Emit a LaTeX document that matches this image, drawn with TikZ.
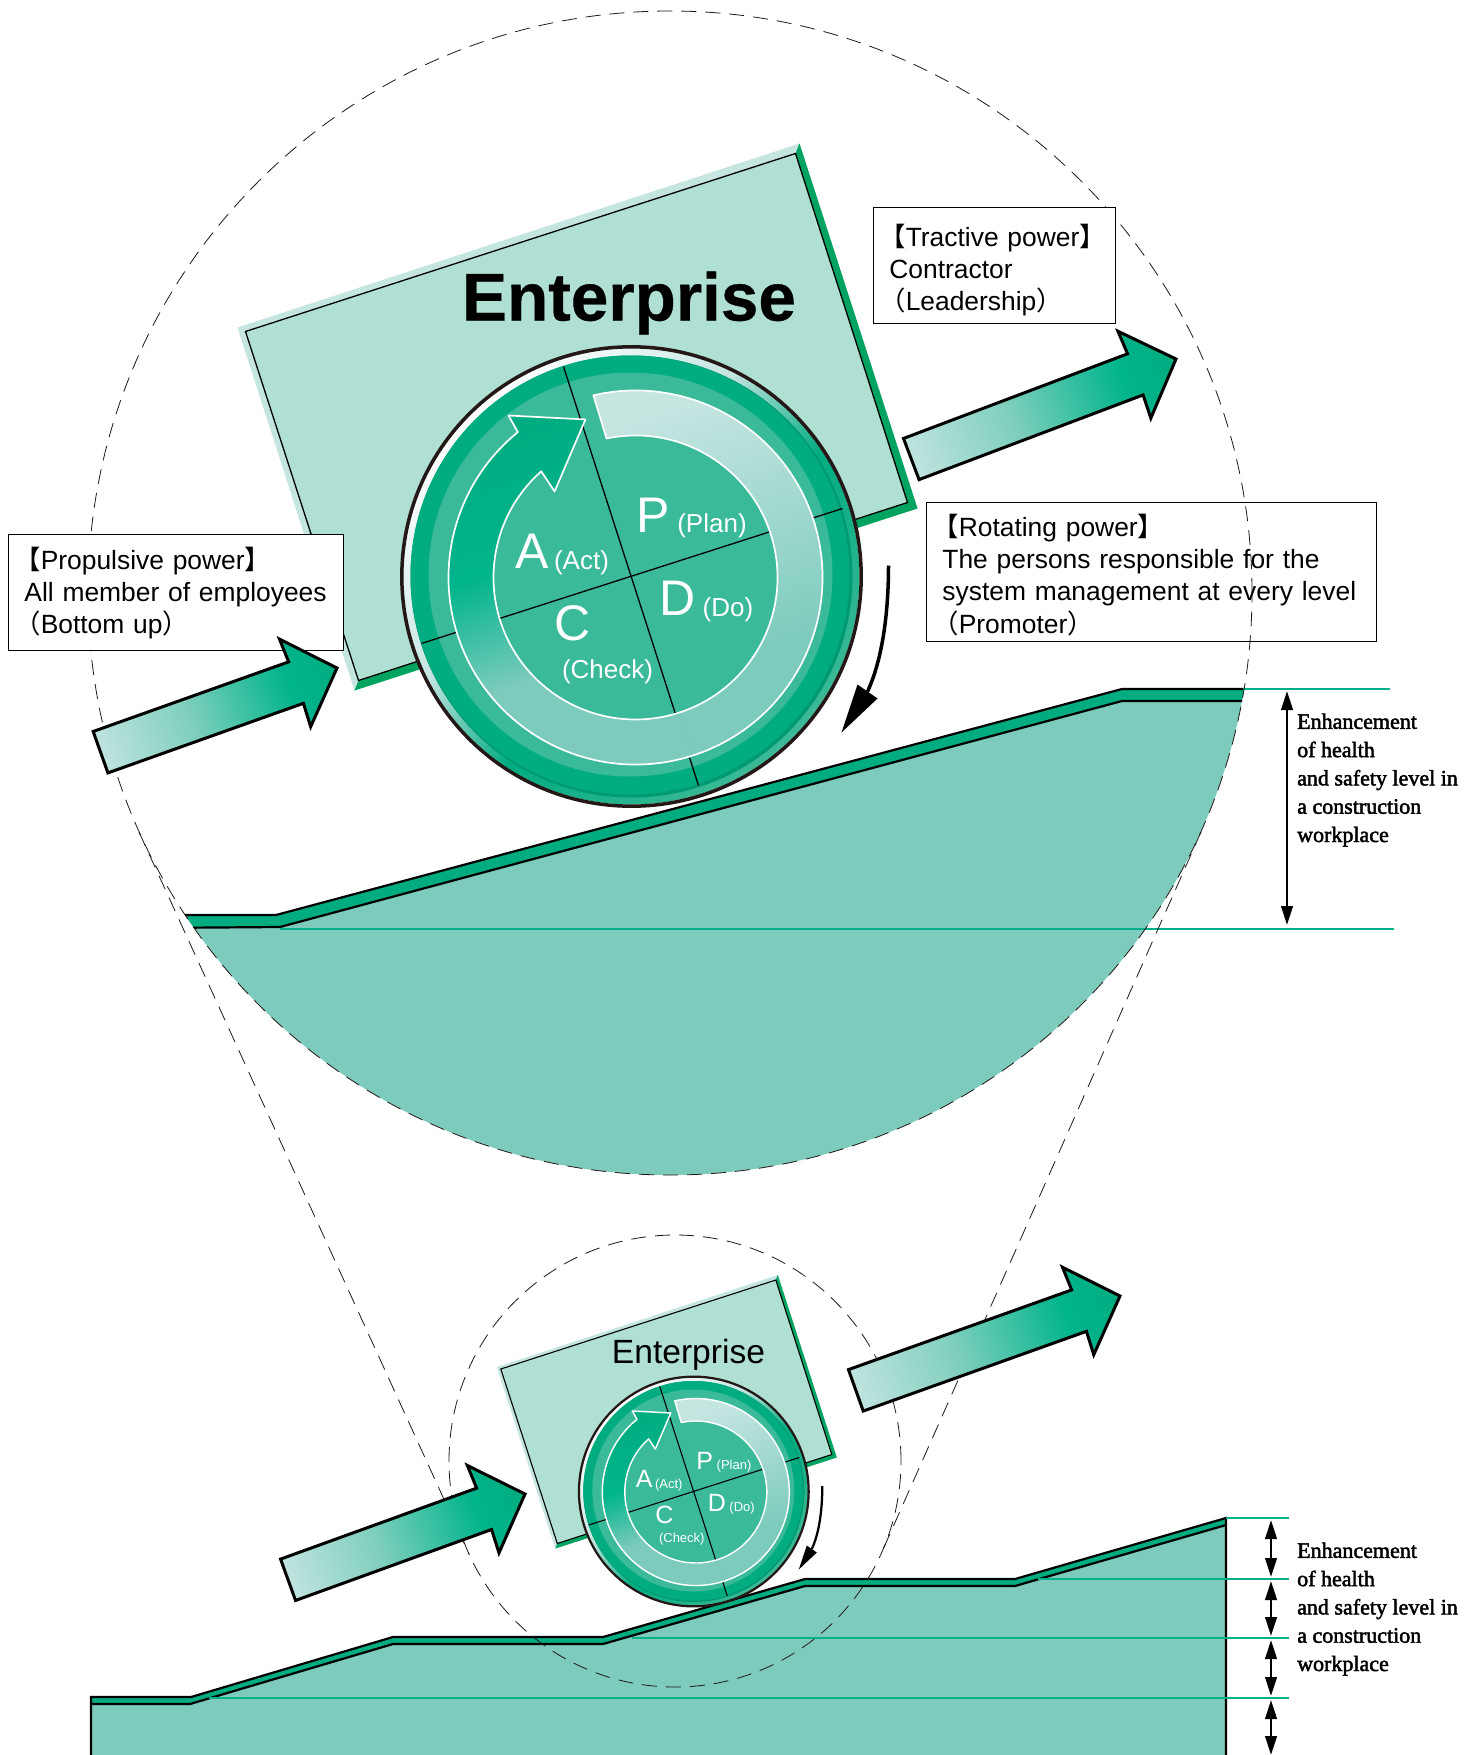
\documentclass[tikz,border=0pt]{standalone}
\usepackage{fontspec}
\setmainfont{Liberation Sans}
\newfontfamily\cjk{Noto Sans CJK JP}
\newfontfamily\seriftext[FakeBold=2]{Liberation Serif}
\newfontfamily\heavyfont[BoldFeatures={FakeBold=0.5}]{Liberation Sans}
\usetikzlibrary{arrows.meta}
\definecolor{groundc}{HTML}{7CCBBC}
\definecolor{bandc}{HTML}{00AC80}
\definecolor{rectc}{HTML}{B0DFD3}
\definecolor{palec}{HTML}{C5E5E1}
\definecolor{stripc}{HTML}{00A35F}
\definecolor{ringc}{HTML}{3ABA98}
\definecolor{darkc}{HTML}{009A72}
\definecolor{inkc}{HTML}{231815}
\definecolor{arA}{HTML}{BFE3DE}
\definecolor{arM}{HTML}{7FCFBD}
\definecolor{arB}{HTML}{00B48C}
\definecolor{arC}{HTML}{00AC80}
\definecolor{rimE}{HTML}{3DB996}
\definecolor{levelc}{HTML}{00B08A}
\pgfdeclarehorizontalshading{powerarrowshade}{100bp}{color(0bp)=(arA); color(25bp)=(arA); color(44bp)=(arM); color(65bp)=(arB); color(75bp)=(arC); color(100bp)=(arC)}
\pgfdeclareverticalshading{planarcshade}{100bp}{color(0bp)=(groundc); color(25bp)=(groundc); color(35bp)=(groundc); color(70bp)=(palec); color(100bp)=(palec)}
\pgfdeclareverticalshading{actarcshade}{100bp}{color(0bp)=(groundc); color(25bp)=(groundc); color(41bp)=(groundc); color(56bp)=(arB); color(75bp)=(arC); color(100bp)=(arC)}
\pgfdeclarehorizontalshading{rimshade}{100bp}{color(0bp)=(white); color(25bp)=(white); color(42bp)=(palec); color(55bp)=(bandc); color(75bp)=(rimE); color(100bp)=(rimE)}
\newcommand{\fs}[2]{\fontsize{#1pt}{#2pt}\selectfont}
\newcommand{\hangbr}{\hspace*{-.38em}}
\newcommand{\cjkb}[1]{{\cjk #1}}
\newcommand{\boxline}[1]{\mbox{#1}}
\tikzset{
  x=1pt,y=-1pt,
  infobox/.style={draw=black,line width=0.8pt,fill=white,anchor=north west,align=left,font=\fs{26.4}{32.3},inner ysep=0pt,inner xsep=16pt},
  dashline/.style={draw=inkc,line width=0.8pt,dash pattern=on 15pt off 9pt},
  greenline/.style={draw=levelc,line width=2pt},
  measure/.style={line width=2.6pt,{Triangle[length=19pt,width=11.5pt]}-{Triangle[length=19pt,width=11.5pt]}},
  sidenote/.style={anchor=base west,align=left,inner sep=0pt,font=\seriftext\fs{22}{28.3}},
  bigletter/.style={anchor=base,inner sep=0pt,text=white,font=\fs{50}{50}},
  smallword/.style={anchor=base,inner sep=0pt,text=white,font=\fs{26}{26}},
}
% arrow: tip x, tip y, angle, length
\newcommand{\powerarrow}[4]{%
  \begin{scope}[transform canvas={shift={(#1,#2)},rotate=#3}]
    \shadedraw[shading=powerarrowshade,draw=black,line width=3pt,miter limit=10]
      (-#4,-22) -- (-43.5,-22) -- (-44.5,-46.5) -- (0,0) -- (-44.5,46.5) -- (-43.5,22) -- (-#4,22) -- cycle;
  \end{scope}}
% enterprise block: prefix, cx, cy, scale, outline width, fine width
\newcommand{\enterpriseblock}[6]{%
  \begin{scope}[transform canvas={shift={(#2,#3)},scale=#4}]
    \fill[palec] (-394,-249) -- (168,-433) -- (286,-68) -- (-277,114) -- cycle;
    \fill[stripc] (168,-433) -- (286,-68) -- (-277,114) -- (-273,104) -- (276,-74) -- (164,-423) -- cycle;
    \filldraw[fill=rectc,draw=black,line width=#6pt] (-386,-245) -- (164,-423) -- (276,-74) -- (-273,104) -- cycle;
    \begin{scope}[transform canvas={rotate=-45}]
      \shade[shading=rimshade] (0,0) circle (228pt);
    \end{scope}
    \fill[darkc] (0,0) circle (221pt);
    \fill[bandc] (-1.5,-1.5) circle (219.5pt);
    \fill[ringc] (-1,-2) circle (202pt);
    \draw[inkc,line width=#5pt] (0,0) circle (229.7pt);
    \draw[black,line width=#6pt] (-68,-210) -- (67,209);
    \draw[black,line width=#6pt] (-210,67) -- (211,-68);
    \begin{scope}[transform canvas={shift={(4,1)},rotate=18}]
      \shade[shading=planarcshade] (85:187pt) arc[start angle=85,end angle=-90,radius=187pt]
        -- (-90:142pt) arc[start angle=-90,end angle=83.8,radius=142pt] -- cycle;
      \shade[shading=actarcshade] (-90:187pt) arc[start angle=-90,end angle=-249,radius=187pt]
        -- (-70.7,-193.3) -- (1.2,-165.8) -- (-50.4,-106.8)
        -- (-246.4:142pt) arc[start angle=-246.4,end angle=-90,radius=142pt] -- cycle;
      \draw[white,line width=#6pt*1.3,line join=round] (-90:187pt) arc[start angle=-90,end angle=85,radius=187pt]
        -- (83.8:142pt) arc[start angle=83.8,end angle=-90,radius=142pt];
      \draw[white,line width=#6pt*1.3,line join=round] (-90:187pt) arc[start angle=-90,end angle=-249,radius=187pt]
        -- (-70.7,-193.3) -- (1.2,-165.8) -- (-50.4,-106.8)
        -- (-246.4:142pt) arc[start angle=-246.4,end angle=-90,radius=142pt];
    \end{scope}
    \node[bigletter] (#1P) at (22,-44) {P};
    \node[smallword] (#1Plan) at (80.5,-44) {(Plan)};
    \node[bigletter] (#1A) at (-99,-8) {A};
    \node[smallword] (#1Act) at (-50,-7) {(Act)};
    \node[bigletter] (#1D) at (46,39) {D};
    \node[smallword] (#1Do) at (96.5,40) {(Do)};
    \node[bigletter] (#1C) at (-59,64) {C};
    \node[smallword] (#1Check) at (-24,102) {(Check)};
    \draw[black,line width=#5pt] (257,-11) .. controls (257,40) and (250,85) .. (236,115);
    \fill[black] (210,156) -- (226,108) -- (246,122) -- cycle;
  \end{scope}}
\begin{document}
\begin{tikzpicture}
\useasboundingbox (0,0) rectangle (1478,1755);
\fill[white] (0,0) rectangle (1478,1755);

% lower ground
\fill[groundc] (91,1704) -- (190,1704) -- (393,1644) -- (603,1644) -- (805,1586) -- (1015,1586) -- (1226,1525) -- (1226,1755) -- (91,1755) -- cycle;
\fill[bandc] (91,1697) -- (191,1697) -- (393,1637) -- (603,1637) -- (805,1579) -- (1015,1579) -- (1226,1518) -- (1226,1525) -- (1015,1586) -- (805,1586) -- (603,1644) -- (393,1644) -- (190,1704) -- (91,1704) -- cycle;
\draw[black,line width=2.2pt] (91,1755) -- (91,1697) -- (191,1697) -- (393,1637) -- (603,1637) -- (805,1579) -- (1015,1579) -- (1226,1518) -- (1226,1755);
\draw[black,line width=2.2pt] (91,1704) -- (190,1704) -- (393,1644) -- (603,1644) -- (805,1586) -- (1015,1586) -- (1226,1525);
\draw[greenline] (1226,1518) -- (1289,1518);
\draw[greenline] (1038,1579) -- (1289,1579);
\draw[greenline] (632,1638) -- (1289,1638);
\draw[greenline] (209,1698) -- (1289,1698);

% upper ground, cut by the big circle
\begin{scope}
  \clip (670,593) circle (582pt);
  \fill[groundc] (150,928) -- (280,927) -- (1122,701) -- (1300,701) -- (1300,1200) -- (150,1200) -- cycle;
  \fill[bandc] (150,915) -- (276,915) -- (1122,689) -- (1300,689) -- (1300,701) -- (1122,701) -- (280,927) -- (150,928) -- cycle;
  \draw[black,line width=2.2pt] (150,915) -- (276,915) -- (1122,689) -- (1300,689);
  \draw[black,line width=2.2pt] (150,928) -- (280,927) -- (1122,701) -- (1300,701);
\end{scope}
\draw[greenline] (1243,689) -- (1390,689);
\draw[greenline] (280,928.6) -- (1394,928.6);

% box crossed by the dashed circle
\node[infobox,minimum width=450pt,minimum height=139pt,text width=418pt] (rotating) at (926,502)
  {\boxline{\rule{0pt}{28pt}\hangbr\cjkb{【}Rotating power\cjkb{】}}\\\boxline{The persons responsible for the}\\\boxline{system management at every level}\\\boxline{\hangbr\cjkb{（}Promoter\cjkb{）}}};

% dashed circles and their tangents
\coordinate (bigC) at (670,593);
\coordinate (smallC) at (675,1461);
\coordinate (tanAL) at (139,832);
\coordinate (tanBL) at (469,1554);
\coordinate (tanAR) at (1201,832);
\coordinate (tanBR) at (881,1554);
\draw[dashline] (bigC) circle (582pt);
\draw[dashline] (smallC) circle (226pt);
\draw[dashline] (tanAL) -- (tanBL);
\draw[dashline] (tanAR) -- (tanBR);

% enterprise blocks
\enterpriseblock{big}{631.5}{576.5}{1}{3.5}{1.3}
\node[anchor=base,inner sep=0pt,font=\heavyfont\bfseries\fs{67.5}{67.5}] (entbig) at (629,320.5) {Enterprise};
\enterpriseblock{sm}{693.8}{1491.5}{0.5}{4.5}{2.2}
\node[anchor=base,inner sep=0pt,font=\fs{33.6}{33.6}] (entsmall) at (688.5,1363) {Enterprise};

% other boxes
\node[infobox,minimum width=242pt,minimum height=116pt,text width=210pt] (tractive) at (873,207)
  {\boxline{\rule{0pt}{32pt}\hangbr\cjkb{【}Tractive power\cjkb{】}}\\\boxline{Contractor}\\\boxline{\hangbr\cjkb{（}Leadership\cjkb{）}}};
\node[infobox,minimum width=335pt,minimum height=116pt,text width=303pt] (propulsive) at (8,534)
  {\boxline{\rule{0pt}{24pt}\hangbr\cjkb{【}Propulsive power\cjkb{】}}\\\boxline{All member of employees}\\\boxline{\hangbr\cjkb{（}Bottom up\cjkb{）}}};

% arrows
\powerarrow{337}{668}{19.6}{251}
\powerarrow{1176}{359}{20.7}{283}
\powerarrow{525}{1494}{19.9}{252}
\powerarrow{1120}{1296}{19.65}{280.5}

% measures
\coordinate (mA) at (1287,691);
\coordinate (mB) at (1287,925);
\draw[measure] (mA) -- (mB);
\coordinate (m1) at (1271,1520);
\coordinate (m2) at (1271,1577);
\coordinate (m3) at (1271,1581);
\coordinate (m4) at (1271,1636);
\coordinate (m5) at (1271,1640);
\coordinate (m6) at (1271,1696);
\coordinate (m7) at (1271,1700);
\coordinate (m8) at (1271,1755);
\draw[measure] (m1) -- (m2);
\draw[measure] (m3) -- (m4);
\draw[measure] (m5) -- (m6);
\draw[measure] (m7) -- (m8);

\node[sidenote] (noteA) at (1297,842) {Enhancement\\of health\\and safety level in\\a construction\\workplace};
\node[sidenote] (noteB) at (1297,1671) {Enhancement\\of health\\and safety level in\\a construction\\workplace};
\end{tikzpicture}
\end{document}
